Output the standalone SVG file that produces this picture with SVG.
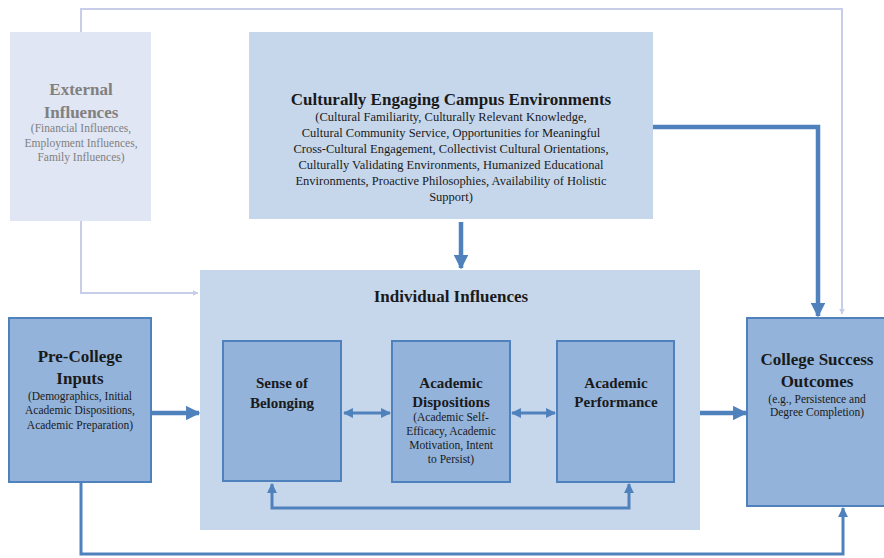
<svg xmlns="http://www.w3.org/2000/svg" width="884" height="558" viewBox="0 0 884 558">
<defs>
<marker id="ah" viewBox="0 0 10 10" refX="9" refY="5" markerWidth="3.2" markerHeight="3.2" orient="auto"><path d="M0,0L10,5L0,10z" fill="#4f81bd"/></marker>
<marker id="ahs" viewBox="0 0 10 10" refX="9" refY="5" markerWidth="3.3" markerHeight="3.3" orient="auto-start-reverse"><path d="M0,0L10,5L0,10z" fill="#4f81bd"/></marker>
<marker id="aht" viewBox="0 0 10 10" refX="9" refY="5" markerWidth="3" markerHeight="3" orient="auto"><path d="M0,0L10,5L0,10z" fill="#c8cee9"/></marker>
</defs>
<g id="external" fill="#808080" text-anchor="middle" font-family="Tinos, Liberation Serif, serif">
<rect x="10" y="32" width="141" height="189" fill="#e0e6f4"/>
<text x="81" y="95" font-weight="bold" font-size="17">External</text>
<text x="81" y="118" font-weight="bold" font-size="17">Influences</text>
<text x="81" y="132" font-size="11.5">(Financial Influences,</text>
<text x="81" y="147" font-size="11.5">Employment Influences,</text>
<text x="81" y="161" font-size="11.5">Family Influences)</text>
</g>
<g id="campus" fill="#1a1a1a" text-anchor="middle" font-family="Tinos, Liberation Serif, serif">
<rect x="249" y="32" width="404" height="187" fill="#c6d7ec"/>
<text x="451" y="105" font-weight="bold" font-size="17">Culturally Engaging Campus Environments</text>
<text x="451" y="121" font-size="12.5">(Cultural Familiarity, Culturally Relevant Knowledge,</text>
<text x="451" y="137" font-size="12.5">Cultural Community Service, Opportunities for Meaningful</text>
<text x="451" y="153" font-size="12.5">Cross-Cultural Engagement, Collectivist Cultural Orientations,</text>
<text x="451" y="169" font-size="12.5">Culturally Validating Environments, Humanized Educational</text>
<text x="451" y="185" font-size="12.5">Environments, Proactive Philosophies, Availability of Holistic</text>
<text x="451" y="201" font-size="12.5">Support)</text>
</g>
<g id="individual" fill="#1a1a1a" text-anchor="middle" font-family="Tinos, Liberation Serif, serif">
<rect x="200" y="270" width="500" height="260" fill="#c6d7ec"/>
<text x="451" y="302" font-weight="bold" font-size="17">Individual Influences</text>
</g>
<g id="precollege" fill="#1a1a1a" text-anchor="middle" font-family="Tinos, Liberation Serif, serif">
<rect x="9" y="318" width="142" height="164" fill="#93b3da" stroke="#4f81bd" stroke-width="2"/>
<text x="80" y="362" font-weight="bold" font-size="17">Pre-College</text>
<text x="80" y="384" font-weight="bold" font-size="17">Inputs</text>
<text x="80" y="400" font-size="11.5">(Demographics, Initial</text>
<text x="80" y="414" font-size="11.5">Academic Dispositions,</text>
<text x="80" y="429" font-size="11.5">Academic Preparation)</text>
</g>
<g id="belonging" fill="#1a1a1a" text-anchor="middle" font-family="Tinos, Liberation Serif, serif">
<rect x="223" y="341" width="118" height="140" fill="#93b3da" stroke="#4f81bd" stroke-width="2"/>
<text x="282" y="388" font-weight="bold" font-size="15">Sense of</text>
<text x="282" y="408" font-weight="bold" font-size="15">Belonging</text>
</g>
<g id="dispositions" fill="#1a1a1a" text-anchor="middle" font-family="Tinos, Liberation Serif, serif">
<rect x="392" y="341" width="118" height="141" fill="#93b3da" stroke="#4f81bd" stroke-width="2"/>
<text x="451" y="388" font-weight="bold" font-size="15">Academic</text>
<text x="451" y="407" font-weight="bold" font-size="15">Dispositions</text>
<text x="451" y="421" font-size="11.5">(Academic Self-</text>
<text x="451" y="435" font-size="11.5">Efficacy, Academic</text>
<text x="451" y="449" font-size="11.5">Motivation, Intent</text>
<text x="451" y="463" font-size="11.5">to Persist)</text>
</g>
<g id="performance" fill="#1a1a1a" text-anchor="middle" font-family="Tinos, Liberation Serif, serif">
<rect x="557" y="341" width="117" height="141" fill="#93b3da" stroke="#4f81bd" stroke-width="2"/>
<text x="616" y="388" font-weight="bold" font-size="15">Academic</text>
<text x="616" y="407" font-weight="bold" font-size="15">Performance</text>
</g>
<g id="outcomes" fill="#1a1a1a" text-anchor="middle" font-family="Tinos, Liberation Serif, serif">
<rect x="747" y="318" width="140" height="188" fill="#93b3da" stroke="#4f81bd" stroke-width="2"/>
<text x="817" y="365" font-weight="bold" font-size="17">College Success</text>
<text x="817" y="387" font-weight="bold" font-size="17">Outcomes</text>
<text x="817" y="403" font-size="11.5">(e.g., Persistence and</text>
<text x="817" y="416" font-size="11.5">Degree Completion)</text>
</g>
<g id="connectors" fill="none">
<g stroke="#c8cee9" stroke-width="2">
<path d="M81,32V9H842V314" marker-end="url(#aht)"/>
<path d="M81,221V293H198" marker-end="url(#aht)"/>
</g>
<g stroke="#4f81bd" stroke-width="4.5">
<path d="M461,222V268" marker-end="url(#ah)"/>
<path d="M653,127H818V316" marker-end="url(#ah)"/>
<path d="M152,413H199" marker-end="url(#ah)"/>
<path d="M700,413H746" marker-end="url(#ah)"/>
</g>
<g stroke="#4f81bd" stroke-width="3">
<path d="M344,413H390" marker-start="url(#ahs)" marker-end="url(#ahs)"/>
<path d="M512,413H555" marker-start="url(#ahs)" marker-end="url(#ahs)"/>
<path d="M272,484V508H629V484" marker-start="url(#ahs)" marker-end="url(#ahs)"/>
<path d="M81,483V554H843V508" marker-end="url(#ahs)"/>
</g>
</g>
</svg>
